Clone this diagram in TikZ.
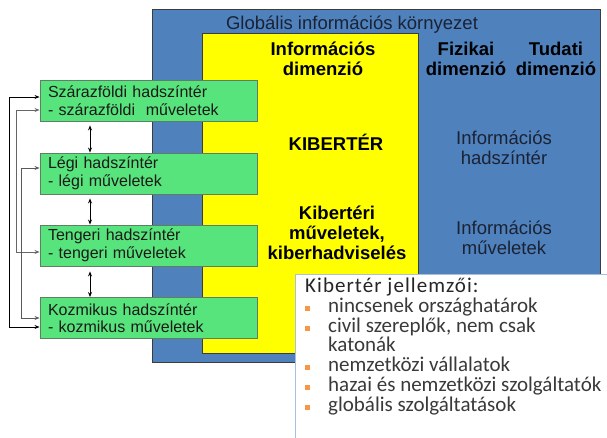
\documentclass[tikz,border=0pt]{standalone}
\usepackage{fontspec}
\setmainfont{Liberation Sans}
\newfontfamily\listfont{Carlito}
\newfontfamily\listhdrfont[LetterSpace=5]{Carlito}
\usetikzlibrary{arrows.meta}
\definecolor{bgblue}{HTML}{4F81BD}
\definecolor{ylw}{HTML}{FFFF00}
\definecolor{grn}{HTML}{58E47C}
\definecolor{grnedge}{HTML}{5E7F66}
\definecolor{edge}{HTML}{3C3C3C}
\definecolor{navy}{HTML}{1B2233}
\definecolor{txt}{HTML}{1A1A1A}
\definecolor{listtxt}{HTML}{3A3A3A}
\definecolor{orng}{HTML}{F79646}
\definecolor{wedge}{HTML}{A8C0DC}
\begin{document}
\begin{tikzpicture}[x=1pt,y=1pt,
  panel/.style={draw=edge, line width=0.8pt, inner sep=0pt, anchor=south west},
  gbox/.style={draw=grnedge, line width=0.9pt, fill=grn, minimum width=217pt, minimum height=41pt,
     text width=201pt, inner xsep=8pt, inner ysep=0pt, align=left, text=txt,
     font=\fontsize{16}{17.5}\selectfont},
  boldtxt/.style={align=center, text=black, font=\fontsize{18.5}{20}\selectfont\bfseries},
  regtxt/.style={align=center, text=navy, font=\fontsize{18.5}{20}\selectfont},
  dbl/.style={{Stealth[length=5pt,width=4pt]}-{Stealth[length=5pt,width=4pt]}, line width=0.8pt},
  listline/.style={anchor=base west, inner sep=0pt, text=listtxt, font=\listfont\fontsize{21}{20}\selectfont},
  bulletsq/.style={fill=orng, inner sep=0pt, minimum size=5pt}
]
\useasboundingbox (0,0) rectangle (607,438);
\begin{scope}
\clip (0,0) rectangle (607,438);
% background panels
\node[panel, fill=bgblue, minimum width=448pt, minimum height=353pt] (env) at (152,75) {};
\node[panel, fill=ylw, minimum width=216pt, minimum height=320pt] (cyber) at (202,84) {};
\node[draw=wedge, line width=1pt, fill=white, inner sep=0pt, anchor=south west,
      minimum width=330pt, minimum height=170pt] (list) at (295,-7) {};

% header texts
\node[regtxt] (glob) at (352,413) {Globális információs környezet};
\node[boldtxt] (infdim) at (323,379) {Információs\\dimenzió};
\node[boldtxt] (fizdim) at (466,379) {Fizikai\\dimenzió};
\node[boldtxt] (tuddim) at (556,379) {Tudati\\dimenzió};
\node[boldtxt] (kiber) at (336,296) {KIBERTÉR};
\node[boldtxt] (kibops) at (337,205) {Kibertéri\\műveletek,\\kiberhadviselés};
\node[regtxt] (infhad) at (504,290) {Információs\\hadszíntér};
\node[regtxt] (infops) at (504,200) {Információs\\műveletek};

% green boxes
\node[gbox] (b1) at (148.5,337.5) {Szárazföldi hadszíntér\\- szárazföldi\ \ műveletek};
\node[gbox] (b2) at (148.5,264.5) {Légi hadszíntér\\- légi műveletek};
\node[gbox] (b3) at (148.5,192.5) {Tengeri hadszíntér\\- tengeri műveletek};
\node[gbox] (b4) at (148.5,120) {Kozmikus hadszíntér\\- kozmikus műveletek};

% vertical double arrows
\draw[dbl] ([xshift=-58.5pt,yshift=-4pt]b1.south) -- ([xshift=-58.5pt]b2.north);
\draw[dbl] ([xshift=-58.5pt,yshift=-4pt]b2.south) -- ([xshift=-58.5pt]b3.north);
\draw[dbl] ([xshift=-58.5pt,yshift=-5pt]b3.south) -- ([xshift=-58.5pt]b4.north);

% left feedback connectors
\draw[dbl, draw=black] ([yshift=3.5pt]b1.west) -- ++(-30,0) |- ([yshift=-9pt]b4.west);
\draw[dbl, draw=gray!80!black] ([yshift=-9.5pt]b1.west) -- ++(-23,0) |- ([yshift=-6.5pt]b3.west);
\draw[dbl, draw=gray!70!black] ([yshift=5.5pt]b2.west) -- ++(-18,0) |- (b4.west);

% list
\node[listline, font=\listhdrfont\fontsize{21}{20}\selectfont, text=black!85] (lh) at (305,145) {Kibertér jellemzői:};
\node[listline] (l1) at (328,125) {nincsenek országhatárok};
\node[listline] (l2) at (328,105) {civil szereplők, nem csak};
\node[listline] (l2b) at (328,86) {katonák};
\node[listline] (l3) at (328,66) {nemzetközi vállalatok};
\node[listline] (l4) at (328,46) {hazai és nemzetközi szolgáltatók};
\node[listline] (l5) at (328,26) {globális szolgáltatások};
\node[bulletsq] (q1) at (307,129) {};
\node[bulletsq] (q2) at (307,109) {};
\node[bulletsq] (q3) at (307,70) {};
\node[bulletsq] (q4) at (307,50) {};
\node[bulletsq] (q5) at (307,30) {};
\end{scope}
\end{tikzpicture}
\end{document}
